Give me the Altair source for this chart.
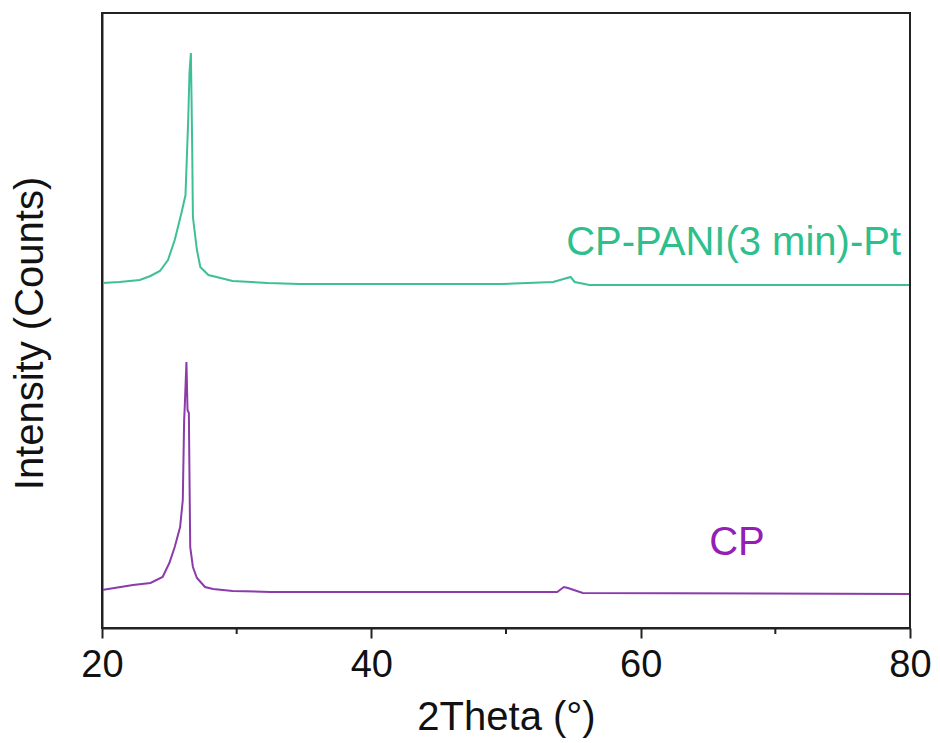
import altair as alt
import pandas as pd

# 2Theta (deg) and intensity (arbitrary counts)
pani_theta = [20.0, 21.3, 22.8, 23.6, 24.3, 24.9, 25.4, 25.9, 26.2, 26.4, 26.5, 26.6,
              26.65, 26.7, 26.75, 27.05, 27.3, 27.9, 28.8, 29.7, 32.3, 34.7, 49.6,
              53.5, 54.8, 55.1, 56.2, 64.4, 80.0]
pani_counts = [345, 346, 348, 352, 357, 368, 388, 415, 433, 508, 556, 575,
               528, 478, 411, 378, 361, 353, 350, 347, 345, 344, 344,
               346, 351, 346, 343, 343, 343]

cp_theta = [20.0, 22.3, 23.6, 24.5, 25.0, 25.4, 25.8, 26.0, 26.1, 26.15, 26.27, 26.35,
            26.45, 26.55, 26.75, 27.05, 27.65, 28.25, 29.7, 32.5, 49.6, 53.8, 54.3,
            54.6, 55.7, 80.0]
cp_counts = [38, 43, 45, 51, 65, 81, 101, 128, 208, 223, 266, 218,
             215, 81, 61, 50, 41, 39, 37, 36, 36, 36, 41,
             40, 35, 34]

series_names = ["CP-PANI(3 min)-Pt", "CP"]
series_colors = ["#3DBF98", "#8B3BAA"]
label_colors = ["#2DBF8C", "#9320B5"]
label_theta = [66.9, 67.15]
label_counts = [373, 73]

# frame corners (data-space limits of the plot box)
frame_theta = [20, 80]
frame_counts = [0, 615]

rows = []
for t, c in zip(pani_theta, pani_counts):
    rows.append({"theta": t, "counts": c, "series": series_names[0]})
for t, c in zip(cp_theta, cp_counts):
    rows.append({"theta": t, "counts": c, "series": series_names[1]})
df = pd.DataFrame(rows)

labels_df = pd.DataFrame({"theta": label_theta, "counts": label_counts,
                          "text": series_names, "color": label_colors})
frame_df = pd.DataFrame({"theta": [frame_theta[0]], "theta2": [frame_theta[1]],
                         "counts": [frame_counts[0]], "counts2": [frame_counts[1]]})

x_scale = alt.Scale(domain=[20, 80], nice=False, zero=False)
y_scale = alt.Scale(domain=[0, 615], nice=False, zero=False)

lines = alt.Chart(df).mark_line(strokeWidth=2).encode(
    x=alt.X("theta:Q", scale=x_scale,
            axis=alt.Axis(title="2Theta (°)", values=[20, 40, 60, 80], grid=False,
                          tickSize=10, tickWidth=2, tickColor="#222",
                          domainColor="#222", domainWidth=2,
                          labelFontSize=38, labelFont="Liberation Sans", labelColor="#111",
                          labelPadding=8, labelFlush=False,
                          titleFontSize=40, titleFont="Liberation Sans", titleFontWeight="normal",
                          titleColor="#111", titlePadding=13)),
    y=alt.Y("counts:Q", scale=y_scale,
            axis=alt.Axis(title="Intensity (Counts)", labels=False, ticks=False, grid=False,
                          domainColor="#222", domainWidth=2,
                          titleFontSize=40, titleFont="Liberation Sans", titleFontWeight="normal",
                          titleColor="#111", titlePadding=52, titleY=320)),
    color=alt.Color("series:N", scale=alt.Scale(domain=series_names, range=series_colors),
                    legend=None),
    detail="series:N",
)

frame = alt.Chart(frame_df).mark_rect(
    fill="white", fillOpacity=0, stroke="#222", strokeWidth=2
).encode(
    x=alt.X("theta:Q", scale=x_scale),
    x2="theta2:Q",
    y=alt.Y("counts:Q", scale=y_scale),
    y2="counts2:Q",
)

minor = alt.Chart(pd.DataFrame({"theta": [30, 50, 70]})).mark_rule(
    color="#222", strokeWidth=2
).encode(
    x=alt.X("theta:Q", scale=x_scale),
    y=alt.value(615),
    y2=alt.value(621),
)

texts = alt.Chart(labels_df).mark_text(
    fontSize=40, font="Liberation Sans", align="center", baseline="alphabetic"
).encode(
    x=alt.X("theta:Q", scale=x_scale),
    y=alt.Y("counts:Q", scale=y_scale),
    text="text:N",
    color=alt.Color("color:N", scale=None),
)

chart = alt.layer(lines, frame, minor, texts).properties(
    width=808, height=615,
    background="white",
    autosize=alt.AutoSizeParams(type="none"),
    padding={"left": 102, "top": 13, "right": 30, "bottom": 115},
).configure_view(stroke=None)

chart.save("out.html", embed_options={"renderer": "svg", "actions": False})
